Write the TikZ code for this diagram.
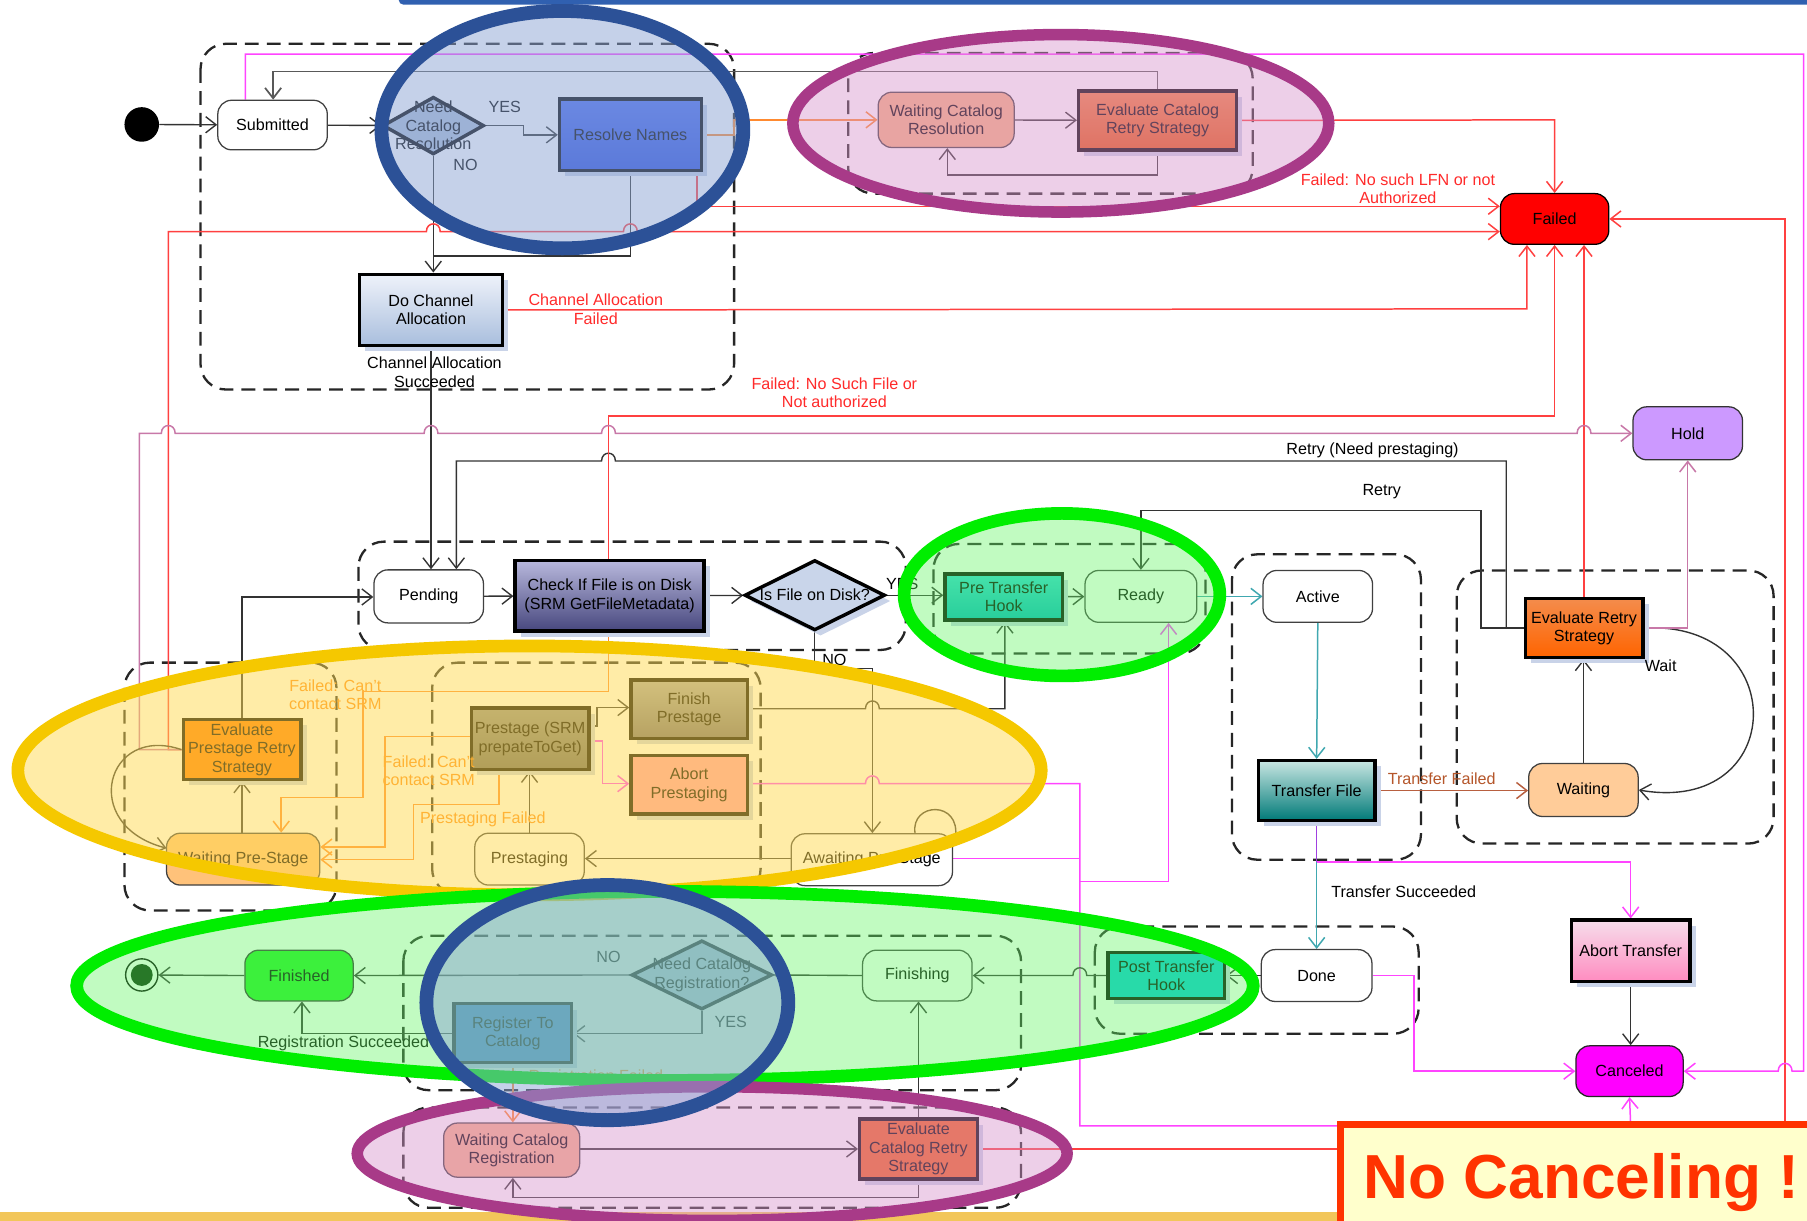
\documentclass[tikz,border=0pt]{standalone}
\usepackage{fontspec}
\setmainfont{Liberation Sans}
\usetikzlibrary{arrows.meta,shapes.geometric,shadows}
\pgfdeclarelayer{bgl}\pgfdeclarelayer{grp}\pgfdeclarelayer{lines}\pgfdeclarelayer{top}
\pgfsetlayers{bgl,grp,lines,main,top}
\definecolor{lnk}{HTML}{333333}
\definecolor{redl}{HTML}{FF4040}
\definecolor{magl}{HTML}{FF44FF}
\definecolor{mauvel}{HTML}{C878A8}
\definecolor{orgl}{HTML}{FF8A30}
\definecolor{teall}{HTML}{40A8B0}
\definecolor{brownl}{HTML}{B86040}
\definecolor{purpl}{HTML}{A040E0}
\definecolor{redt}{HTML}{FF2A2A}
\definecolor{orgt}{HTML}{FF8C1A}
\definecolor{browntx}{HTML}{B5562A}
\definecolor{shadowc}{HTML}{C9D3E8}
\definecolor{barblue}{HTML}{3060B0}
\definecolor{barGold}{HTML}{F2C65A}
\definecolor{ringblue}{HTML}{2C5197}
\definecolor{ringpurple}{HTML}{A83A88}
\definecolor{ringgreen}{HTML}{00EE00}
\definecolor{ringyellow}{HTML}{F5C800}
\definecolor{ncred}{HTML}{FF3300}
\definecolor{ncfill}{HTML}{FFFFCC}
\newcommand\dfont{\fontsize{14}{16}\selectfont}
\newcommand\jmpr[2]{-- ({#1-6},#2) .. controls ({#1-6},{#2-9}) and ({#1+6},{#2-9}) .. ({#1+6},#2)}
\newcommand\jmpl[2]{-- ({#1+6},#2) .. controls ({#1+6},{#2-9}) and ({#1-6},{#2-9}) .. ({#1-6},#2)}
\begin{document}
\begin{tikzpicture}[x=1pt,y=-1pt,
  >={Straight Barb[length=9pt,width=14pt]},
  state/.style={font=\dfont, rectangle, rounded corners=12pt, draw=black!75, line width=1.1pt, fill=white, align=center, inner sep=0pt},
  act/.style={font=\dfont, rectangle, draw=black, line width=3pt, align=center, inner sep=0pt, drop shadow={shadow xshift=5pt, shadow yshift=-5pt, fill=shadowc, opacity=1}},
  dia/.style={diamond, draw=black, line width=3pt, inner sep=0pt},
  grp/.style={draw=black!85, line width=2pt, dash pattern=on 12pt off 7pt, rounded corners=22pt},
  cn/.style={draw=lnk, line width=1.2pt},
  rl/.style={draw=redl, line width=1.3pt},
  ml/.style={draw=magl, line width=1.3pt},
  ol/.style={draw=orgl, line width=1.3pt},
  lbl/.style={font=\dfont, align=center, inner sep=0pt}]
\useasboundingbox (0,0) rectangle (1568,1059);
\begin{pgfonlayer}{bgl}
\fill[white] (0,0) rectangle (1568,1059);
\fill[barblue, rounded corners=4pt] (346,-10) rectangle (1575,4);
\fill[barGold] (0,1052) rectangle (1568,1062);
\end{pgfonlayer}

% groups
\begin{pgfonlayer}{grp}
\draw[grp] (174,38) rectangle (637,338);
\draw[grp] (736,46) rectangle (1087,168);
\draw[grp] (311,470) rectangle (786,564);
\draw[grp] (810,472) rectangle (1046,567);
\draw[grp] (1069,481) rectangle (1233,746);
\draw[grp] (1264,495) rectangle (1539,732);
\draw[grp] (108,575) rectangle (292,790);
\draw[grp] (375,575) rectangle (660,776);
\draw[grp] (350,812) rectangle (886,946);
\draw[grp] (350,961) rectangle (886,1048);
\draw[grp] (950,804) rectangle (1231,897);
\end{pgfonlayer}

% nodes
\node[circle, fill=black, minimum size=30pt, inner sep=0pt] (start) at (123,108) {};
\node[state, minimum width=95pt, minimum height=43pt] (submitted) at (236.5,108.5) {Submitted};
\node[dia, minimum width=88pt, minimum height=50pt, fill={rgb,255:red,175;green,192;blue,218}] (ncr) at (376,109) {};
\node[lbl] (ncrt) at (376,109) {Need\\Catalog\\Resolution};
\node[act, top color={rgb,255:red,74;green,108;blue,242}, bottom color={rgb,255:red,43;green,79;blue,224}, minimum width=123pt, minimum height=62pt] (resolve) at (547,117) {Resolve Names};
\node[act, top color={rgb,255:red,238;green,242;blue,250}, bottom color={rgb,255:red,169;green,190;blue,221}, minimum width=124pt, minimum height=62pt] (dochan) at (374,269) {Do Channel\\Allocation};
\node[state, fill={rgb,255:red,245;green,176;blue,128}, minimum width=118pt, minimum height=48pt] (wcr) at (821,104) {Waiting Catalog\\Resolution};
\node[act, top color={rgb,255:red,242;green,128;blue,64}, bottom color={rgb,255:red,228;green,87;blue,15}, minimum width=137pt, minimum height=51pt] (ecr) at (1004.5,104.5) {Evaluate Catalog\\Retry Strategy};
\node[state, draw=black, fill=red, minimum width=94pt, minimum height=44pt] (failed) at (1349,190) {Failed};
\node[state, draw=black!80, fill={rgb,255:red,204;green,153;blue,255}, minimum width=95pt, minimum height=46pt] (hold) at (1464.5,376) {Hold};
\node[state, minimum width=95pt, minimum height=46pt] (pending) at (372,517.5) {Pending};
\node[act, top color={rgb,255:red,184;green,184;blue,220}, bottom color={rgb,255:red,71;green,71;blue,126}, minimum width=164pt, minimum height=61pt] (check) at (529,517) {Check If File is on Disk\\(SRM GetFileMetadata)};
\node[dia, fill={rgb,255:red,201;green,213;blue,234}, minimum width=122pt, minimum height=61pt, drop shadow={shadow xshift=5pt, shadow yshift=-5pt, fill=shadowc, opacity=1}] (ifd) at (707,516.5) {};
\node[lbl] (ifdt) at (707,516.5) {Is File on Disk?};
\node[act, top color={rgb,255:red,51;green,214;blue,218}, bottom color={rgb,255:red,0;green,181;blue,192}, minimum width=102pt, minimum height=40pt] (pth) at (871,518) {Pre Transfer\\Hook};
\node[state, minimum width=97pt, minimum height=45pt] (ready) at (990,517.5) {Ready};
\node[state, minimum width=95pt, minimum height=45pt] (active) at (1143.5,517.5) {Active};
\node[act, top color={rgb,255:red,200;green,230;blue,226}, bottom color={rgb,255:red,0;green,122;blue,120}, minimum width=101pt, minimum height=52pt] (tf) at (1142.5,686) {Transfer File};
\node[act, top color={rgb,255:red,244;green,140;blue,76}, bottom color={rgb,255:red,255;green,100;blue,0}, minimum width=102pt, minimum height=51pt] (ers) at (1374.5,545) {Evaluate Retry\\Strategy};
\node[state, fill={rgb,255:red,255;green,204;blue,153}, minimum width=95pt, minimum height=46pt] (waiting) at (1374,685.5) {Waiting};
\node[act, top color={rgb,255:red,168;green,168;blue,172}, bottom color={rgb,255:red,110;green,106;blue,118}, minimum width=101pt, minimum height=51pt] (fp) at (598,615.5) {Finish\\Prestage};
\node[act, fill={rgb,255:red,255;green,154;blue,174}, minimum width=101pt, minimum height=51pt] (ap) at (598,681) {Abort\\Prestaging};
\node[act, top color={rgb,255:red,140;green,140;blue,140}, bottom color={rgb,255:red,100;green,100;blue,100}, minimum width=102pt, minimum height=53pt] (pre) at (460,641) {Prestage (SRM\\prepateToGet)};
\node[act, fill={rgb,255:red,255;green,122;blue,0}, minimum width=102pt, minimum height=52pt] (epr) at (210,650.5) {Evaluate\\Prestage Retry\\Strategy};
\node[state, fill={rgb,255:red,255;green,194;blue,122}, minimum width=133pt, minimum height=45pt] (wps) at (211,745.5) {Waiting Pre-Stage};
\node[state, minimum width=95pt, minimum height=45pt] (prestaging) at (459.5,745.5) {Prestaging};
\node[state, minimum width=140pt, minimum height=45pt] (aps) at (756.5,746) {Awaiting Pre-Stage};
\node[circle, draw=black, line width=1.2pt, fill=white, minimum size=28pt, inner sep=0pt] (end) at (123,846) {};
\node[circle, fill=black!85!green, minimum size=19pt, inner sep=0pt] (endin) at (123,846) {};
\node[state, fill={rgb,255:red,34;green,238;blue,34}, draw=black!80, minimum width=94pt, minimum height=44pt] (finished) at (259.5,846.5) {Finished};
\node[dia, fill={rgb,255:red,184;green,200;blue,224}, minimum width=122pt, minimum height=60pt] (ncreg) at (609,846) {};
\node[lbl] (ncregt) at (609,846) {Need Catalog\\Registration?};
\node[act, fill={rgb,255:red,61;green,126;blue,214}, minimum width=102pt, minimum height=51pt] (rtc) at (445,896.5) {Register To\\Catalog};
\node[state, minimum width=95pt, minimum height=44pt] (finishing) at (796,846.5) {Finishing};
\node[act, fill={rgb,255:red,0;green,200;blue,216}, minimum width=101pt, minimum height=40pt] (pth2) at (1012,846.5) {Post Transfer\\Hook};
\node[state, minimum width=96pt, minimum height=45pt] (done) at (1142.5,846.5) {Done};
\node[act, top color={rgb,255:red,246;green,221;blue,235}, bottom color={rgb,255:red,255;green,140;blue,192}, minimum width=103pt, minimum height=53pt] (at) at (1415,825) {Abort Transfer};
\node[state, draw=black!85, fill={rgb,255:red,255;green,0;blue,255}, minimum width=93pt, minimum height=44pt] (canceled) at (1414,929.5) {Canceled};
\node[state, fill={rgb,255:red,245;green,176;blue,138}, minimum width=118pt, minimum height=47pt] (wcreg) at (444,998) {Waiting Catalog\\Registration};
\node[act, fill={rgb,255:red,240;green,96;blue,24}, minimum width=102pt, minimum height=52pt] (ecreg) at (797,997) {Evaluate\\Catalog Retry\\Strategy};

% connectors
\begin{pgfonlayer}{lines}
\draw[cn,->] (start) -- (submitted);
\draw[cn,->] (submitted) -- (ncr);
\draw[cn,->] (ncr.east) -- (454,109) -- (454,117) -- (resolve.west);
\draw[cn,->] (ncr.south) -- (ncr.south |- dochan.north);
\draw[cn] (resolve.south) -- (547,222) -- (376,222);
\draw[draw=black!65, line width=1.5pt,->] (ecr.north) -- (1004.5,62) -- (237,62) -- (237,0 |- submitted.north);
\draw[cn,->] (wcr) -- (ecr);
\draw[cn,->] (ecr.south) -- (1004.5,152) -- (822,152) -- (822,0 |- wcr.south);
\draw[cn,->] (dochan.south) -- (dochan.south |- pending.north);
\draw[cn,->] (ers.west) -- (1307,545) -- (1307,400) \jmpl{528}{400} -- (396,400) -- (396,0 |- pending.north);
\draw[cn,->] (ers.west) -- (1285,545) -- (1285,443) -- (990,443) -- (ready.north);
\draw[cn,->] (pending) -- (check);
\draw[cn,->] (check) -- (ifd);
\draw[cn,->] (ifd.east) -- (pth.west |- ifd.east);
\draw[cn,->] (ifd.south) -- (707,580) -- (757,580) -- (757,0 |- aps.north);
\draw[cn,->] (pth) -- (ready);
\draw[draw=teall, line width=1.3pt,->] (ready) -- (active);
\draw[draw=teall, line width=1.3pt,->] (active.south) -- (1142.5,0 |- tf.north);
\draw[draw=purpl, line width=1.3pt] (tf.south) -- (1142.5,748);
\draw[draw=teall, line width=1.3pt,->] (1142.5,748) -- (done.north);
\draw[ml,->] (1142.5,748) -- (1415,748) -- (at.north);
\draw[draw=brownl, line width=1.3pt,->] (tf.east) -- (waiting.west |- tf.east);
\draw[cn,->] (waiting.north) -- (1374,0 |- ers.south);
\draw[cn,->] (ers.east) .. controls (1555,538) and (1552,708) .. (waiting.east);
\draw[draw=mauvel, line width=1.3pt,->] (ers.east) -- (1464.5,545) -- (hold.south);
\draw[rl,->] (ers.north) -- (1374.5,0 |- failed.south);
\draw[rl,->] (dochan.east) -- (1325,268) -- (1325,0 |- failed.south);
\draw[rl,->] (528,0 |- check.north) -- (528,361) -- (1349,361) -- (failed.south);
\draw[rl,->] (ecr.east) -- (1349,104) -- (failed.north);
\draw[rl,->] (605,0 |- resolve.south) -- (605,179) -- (failed.west |- 0,179);
\draw[rl,->] (epr.west) -- (146,650.5) -- (146,201) \jmpr{376}{201} \jmpr{547}{201} -- (failed.west |- 0,201);
\draw[rl,->] (ecreg.east) -- (1549,997) -- (1549,190) -- (failed.east);
\draw[ml,->] (213,0 |- submitted.north) -- (213,47) -- (1565,47) -- (1565,929.5) \jmpl{1549}{929.5} -- (canceled.east);
\draw[draw=mauvel, line width=1.3pt,->] (epr.west) -- (121,650.5) -- (121,376) \jmpr{146}{376} \jmpr{374}{376} \jmpr{528}{376} \jmpr{1374.5}{376} -- (hold.west);
\draw[cn,->] (epr.west) .. controls (92,628) and (68,716) .. (144.5,736);
\draw[cn,->] (wps.north -| 210,0) -- (epr.south);
\draw[cn,->] (epr.north) -- (210,518) -- (pending.west |- 0,518);
\draw[ol,->] (528,0 |- check.south) -- (528,600) -- (315,600) -- (315,692) -- (244,692) -- (244,0 |- wps.north);
\draw[ol,->] (pre.west |- 0,639) -- (334,639) -- (334,735) -- (wps.east |- 0,735);
\draw[ol,->] (433,0 |- pre.south) -- (433,698) -- (359,698) -- (359,746) -- (wps.east |- 0,746);
\draw[cn,->] (prestaging.north) -- (prestaging.north |- pre.south);
\draw[cn,->] (pre.east |- 0,630) -- (518,630) -- (518,614) -- (fp.west |- 0,614);
\draw[ml,->] (pre.east |- 0,643) -- (523,643) -- (523,680) -- (ap.west |- 0,680);
\draw[ml,->] (ap.east |- 0,680) \jmpr{757}{680} -- (937,680) -- (937,977) -- (1415,977) -- (canceled.south);
\draw[ml] (aps.east |- 0,745) -- (937,745);
\draw[ml,->] (937,765) -- (1014,765) -- (1014,0 |- ready.south);
\draw[cn,->] (aps.west |- 0,745) -- (prestaging.east |- 0,745);
\draw[cn] (794,0 |- aps.north) .. controls (790,696) and (834,694) .. (829,727);
\draw[cn,->] (fp.east |- 0,615) \jmpr{757}{615} -- (872,615) -- (872,0 |- pth.south);
\draw[cn,->] (done.west) -- (pth2.east);
\draw[cn,->] (pth2.west) \jmpl{937}{846.5} -- (finishing.east);
\draw[cn,->] (finishing.west) -- (ncreg.east);
\draw[cn,->] (ncreg.west) -- (finished.east);
\draw[cn,->] (ncreg.south) -- (609,897) -- (rtc.east |- 0,897);
\draw[cn,->] (rtc.west |- 0,897) -- (262,897) -- (262,0 |- finished.south);
\draw[cn,->] (finished.west) -- (end);
\draw[ol,->] (rtc.south) -- (rtc.south |- wcreg.north);
\draw[cn,->] (wcreg.east |- 0,997) -- (ecreg.west |- 0,997);
\draw[cn,->] (ecreg.south) -- (797,1039) -- (445,1039) -- (445,0 |- wcreg.south);
\draw[cn,->] (ecreg.north) -- (797,0 |- finishing.south);
\draw[ml,->] (done.east) -- (1227,846.5) -- (1227,929.5) -- (canceled.west);
\draw[cn,->] (at.south) -- (1415,0 |- canceled.north);
\draw[ol,->] (resolve.east) -- (637,117) -- (637,104) -- (wcr.west);
\end{pgfonlayer}

% labels
\node[lbl] (lyes1) at (438,93) {YES};
\node[lbl] (lno1) at (404,143) {NO};
\node[lbl] (lcas) at (377,323) {Channel Allocation\\Succeeded};
\node[lbl, text=redt] (lcaf) at (517,268.5) {Channel Allocation\\Failed};
\node[lbl, text=redt] (lnolfn) at (1213,164) {Failed: No such LFN or not\\Authorized};
\node[lbl, text=redt] (lnofile) at (724,341) {Failed: No Such File or\\Not authorized};
\node[lbl] (lrnp) at (1191,391) {Retry (Need prestaging)};
\node[lbl] (lretry) at (1199,427) {Retry};
\node[lbl] (lyes2) at (783,507) {YES};
\node[lbl] (lno2) at (724,573) {NO};
\node[lbl] (lwait) at (1441,578) {Wait};
\node[lbl, text=browntx] (ltf) at (1251,676) {Transfer Failed};
\node[lbl] (lts) at (1218,774) {Transfer Succeeded};
\node[lbl, text=orgt] (lsrm1) at (291,603) {Failed: Can't\\contact SRM};
\node[lbl, text=orgt] (lsrm2) at (372,669) {Failed: Can't\\contact SRM};
\node[lbl, text=orgt] (lpf) at (419,711) {Prestaging Failed};
\node[lbl] (lno3) at (528,830) {NO};
\node[lbl] (lyes3) at (634,887) {YES};
\node[lbl] (lrs) at (298,905) {Registration Succeeded};
\node[lbl, text=orgt] (lrf) at (517,935) {Registration Failed};

% highlight ellipses
\begin{pgfonlayer}{top}
\draw[draw=ringblue, line width=12pt, fill={rgb,255:red,140;green,165;blue,212}, fill opacity=0.5] (488,112.5) ellipse [x radius=157, y radius=103];
\draw[draw=ringpurple, line width=10pt, fill={rgb,255:red,217;green,150;blue,204}, fill opacity=0.45] (920.5,107) ellipse [x radius=232.5, y radius=77];
\draw[draw=ringgreen, line width=11pt, fill={rgb,255:red,100;green,245;blue,100}, fill opacity=0.4] (921.5,516) ellipse [x radius=137, y radius=70.5];
\draw[draw=ringyellow, line width=11pt, fill={rgb,255:red,255;green,218;blue,80}, fill opacity=0.5] (459.5,668.5) ellipse [x radius=444, y radius=108];
\draw[draw=ringgreen, line width=11pt, fill={rgb,255:red,100;green,245;blue,100}, fill opacity=0.4] (577,855.5) ellipse [x radius=510.5, y radius=82];
\draw[draw=ringpurple, line width=10pt, fill={rgb,255:red,217;green,150;blue,204}, fill opacity=0.45] (618,1001) ellipse [x radius=308, y radius=58];
\draw[draw=ringblue, line width=12pt, fill={rgb,255:red,140;green,165;blue,212}, fill opacity=0.5] (527,870) ellipse [x radius=157, y radius=102];
\node[draw=ncred, line width=6pt, fill=ncfill, minimum width=440pt, minimum height=110pt, anchor=north west, inner sep=0pt] (ncbox) at (1160,973) {};
\node[anchor=base west, inner sep=0pt, text=ncred, font=\fontsize{54}{60}\selectfont\bfseries] (nctext) at (1183,1040) {No Canceling !};
\end{pgfonlayer}
\end{tikzpicture}
\end{document}
